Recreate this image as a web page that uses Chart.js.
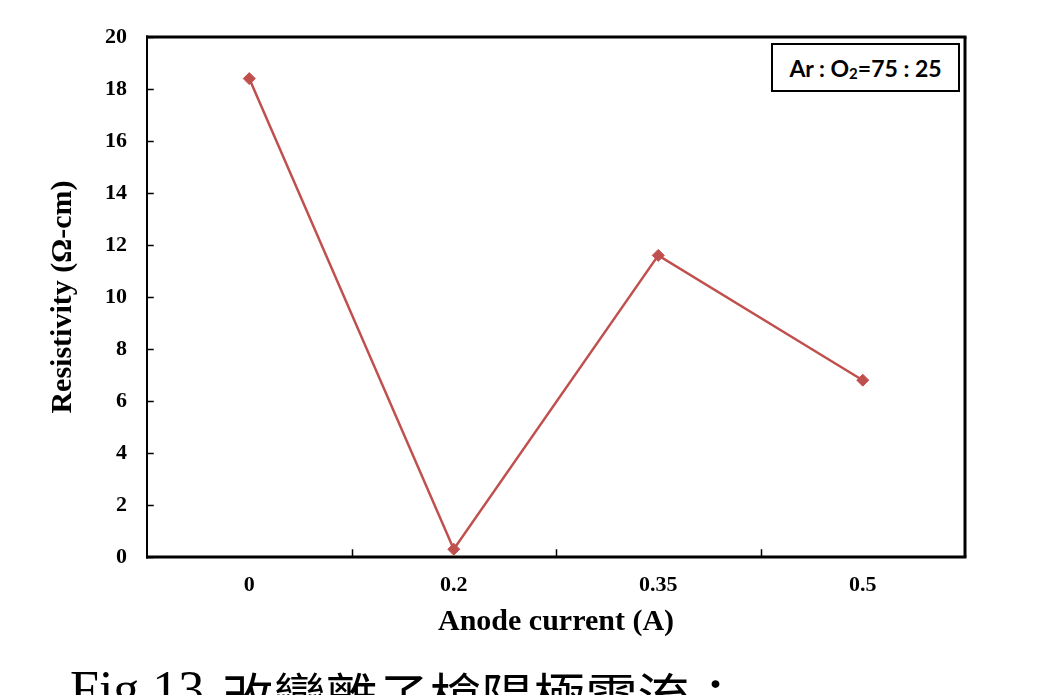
<!DOCTYPE html>
<html>
<head>
<meta charset="utf-8">
<script src="https://cdn.jsdelivr.net/npm/chart.js@4/dist/chart.umd.min.js"></script>
<style>
  html, body { margin: 0; padding: 0; background: #fff; overflow: hidden; }
  #wrap { position: relative; width: 1047px; height: 695px; overflow: hidden; }
  #c { position: absolute; left: 0; top: 0; }
  #legendBox {
    position: absolute; left: 771px; top: 43px; width: 185px; height: 45px;
    border: 2px solid #000; background: #fff;
    font-family: Lato, "Liberation Sans", sans-serif; font-weight: bold; font-size: 23px;
    color: #000; display: flex; align-items: center; justify-content: center; white-space: nowrap;
  }
  #legendBox .sub { font-size: 15px; position: relative; top: 5px; }
  #caption {
    position: absolute; left: 70px; top: 664px; white-space: nowrap;
    font-family: "Liberation Serif", serif; font-size: 52px; line-height: 52px; color: #000;
  }
  #caption .cjk { font-family: "Noto Sans CJK TC", sans-serif; line-height: 0; position: relative; top: 10px; left: 4px; }
</style>
</head>
<body>
<div id="wrap">
  <canvas id="c" width="1047" height="695"></canvas>
  <div id="legendBox">Ar : O<span class="sub">2</span>=75 : 25</div>
  <div id="caption">Fig.13 <span class="cjk">改變離子槍陽極電流：</span></div>
</div>
<script>
const categories = ['0', '0.2', '0.35', '0.5'];
const resistivity = [18.4, 0.3, 11.6, 6.8];
const yMin = 0, yMax = 20, yStep = 2;
const xTitle = 'Anode current (A)';
const yTitle = 'Resistivity (\u03A9-cm)';

const CHART_LEFT = 147, CHART_TOP = 37, CHART_RIGHT = 965, CHART_BOTTOM = 557;
const W = 1047, H = 695;

const framePlugin = {
  id: 'frame',
  beforeDatasetsDraw(chart) {
    const { ctx, chartArea: a, scales } = chart;
    ctx.save();
    ctx.strokeStyle = '#000';
    ctx.lineCap = 'square';
    ctx.lineWidth = 1.5;
    const ys = scales.y;
    for (let v = yMin; v <= yMax; v += yStep) {
      const py = Math.round(ys.getPixelForValue(v)) + 0.5;
      ctx.beginPath(); ctx.moveTo(a.left, py); ctx.lineTo(a.left + 6, py); ctx.stroke();
    }
    const xs = scales.x;
    for (let i = 1; i < categories.length; i++) {
      const px = Math.round((xs.getPixelForValue(i - 1) + xs.getPixelForValue(i)) / 2) + 0.5;
      ctx.beginPath(); ctx.moveTo(px, a.bottom); ctx.lineTo(px, a.bottom - 7); ctx.stroke();
    }
    ctx.lineCap = 'butt';
    ctx.lineWidth = 2;
    ctx.beginPath(); ctx.moveTo(a.left, a.top - 1.5); ctx.lineTo(a.left, a.bottom + 1.5); ctx.stroke();
    ctx.lineWidth = 3;
    ctx.beginPath(); ctx.moveTo(a.left - 1, a.top); ctx.lineTo(a.right + 1.5, a.top); ctx.stroke();
    ctx.beginPath(); ctx.moveTo(a.left - 1, a.bottom); ctx.lineTo(a.right + 1.5, a.bottom); ctx.stroke();
    ctx.beginPath(); ctx.moveTo(a.right, a.top); ctx.lineTo(a.right, a.bottom); ctx.stroke();
    ctx.restore();
  }
};

new Chart(document.getElementById('c'), {
  type: 'line',
  data: {
    labels: categories,
    datasets: [{
      label: 'Ar : O2=75 : 25',
      data: resistivity,
      borderColor: '#C0504D',
      backgroundColor: '#C0504D',
      borderWidth: 2.5,
      pointStyle: 'rectRot',
      pointRadius: 6,
      pointBackgroundColor: '#C0504D',
      pointBorderColor: '#C0504D',
      pointBorderWidth: 1,
      tension: 0,
      clip: false
    }]
  },
  options: {
    responsive: false,
    animation: false,
    devicePixelRatio: 1,
    layout: { padding: { left: 0, top: CHART_TOP, right: W - CHART_RIGHT, bottom: 0 } },
    plugins: { legend: { display: false }, tooltip: { enabled: false } },
    scales: {
      x: {
        type: 'category',
        offset: true,
        grid: { display: false, drawTicks: false },
        border: { display: false },
        ticks: {
          color: '#000', padding: 15, maxRotation: 0,
          font: { family: 'Liberation Serif', weight: 'bold', size: 22 }
        },
        title: {
          display: true, text: xTitle, color: '#000',
          font: { family: 'Liberation Serif', weight: 'bold', size: 30 },
          padding: { top: 0, bottom: 55 }
        },
        afterFit(scale) { scale.height = H - CHART_BOTTOM; }
      },
      y: {
        min: yMin, max: yMax,
        grid: { display: false, drawTicks: false },
        border: { display: false },
        ticks: {
          stepSize: yStep, color: '#000', padding: 20,
          font: { family: 'Liberation Serif', weight: 'bold', size: 22 }
        },
        title: {
          display: true, text: yTitle, color: '#000',
          font: { family: 'Liberation Serif', weight: 'bold', size: 30 },
          padding: { top: 45, bottom: 0 }
        },
        afterFit(scale) { scale.width = CHART_LEFT; }
      }
    }
  },
  plugins: [framePlugin]
});
</script>
</body>
</html>
